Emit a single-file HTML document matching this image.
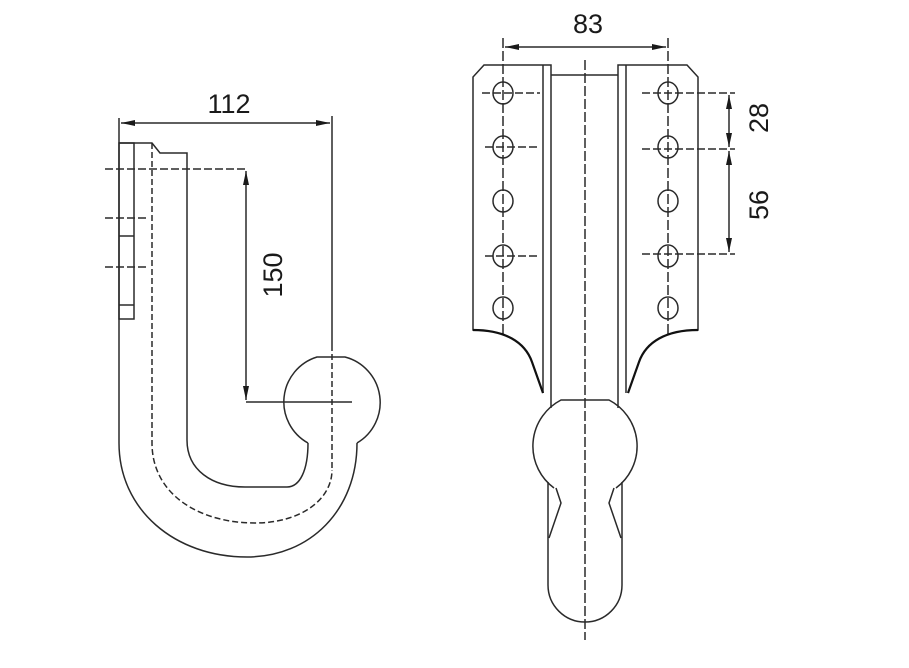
<!DOCTYPE html>
<html><head><meta charset="utf-8"><style>
html,body{margin:0;padding:0;background:#fff;}
svg{display:block;}
text{font-family:"Liberation Sans",sans-serif;fill:#1a1a1a;}
</style></head><body>
<svg width="909" height="668" viewBox="0 0 909 668" xmlns="http://www.w3.org/2000/svg">
<defs>
<marker id="a" viewBox="0 0 14 6" refX="14" refY="3" markerWidth="14" markerHeight="6" orient="auto-start-reverse" markerUnits="userSpaceOnUse"><path d="M0,0 L14,3 L0,6 z" fill="#1a1a1a"/></marker>
</defs>
<g fill="none" stroke="#2a2a2a" stroke-width="1.5">
<!-- LEFT VIEW -->
<line x1="119" y1="118" x2="119" y2="143"/>
<line x1="332" y1="116" x2="332" y2="345"/>
<line x1="332" y1="345" x2="332" y2="470" stroke-dasharray="6,3"/>
<line x1="121" y1="123" x2="330" y2="123" marker-start="url(#a)" marker-end="url(#a)"/>
<path d="M119,143 L152,143 L160,153 L187,153 L187,440 C187,470 212,487 245,487 L287,487 C300,487 308,470 308,443"/>
<path d="M119,143 L119,443 C119,510 175,557 247,557 C310,557 357,510 357,443"/>
<path d="M308,443 A47,47 0 0 1 317,357 L345,357 A47,47 0 0 1 357,443"/>
<rect x="119" y="143" width="15" height="176"/>
<line x1="119" y1="236" x2="134" y2="236"/>
<line x1="119" y1="305" x2="134" y2="305"/>
<path d="M152,143 L152,443 C152,495 200,523 255,523 C300,523 332,500 332,470" stroke-dasharray="6,3"/>
<line x1="105" y1="169" x2="246" y2="169" stroke-dasharray="8,3"/>
<line x1="105" y1="218" x2="146" y2="218" stroke-dasharray="8,3"/>
<line x1="105" y1="267" x2="146" y2="267" stroke-dasharray="8,3"/>
<line x1="246" y1="171" x2="246" y2="400" marker-start="url(#a)" marker-end="url(#a)"/>
<line x1="246" y1="402" x2="352" y2="402"/>
<!-- RIGHT VIEW -->
<line x1="503" y1="38" x2="503" y2="335" stroke-dasharray="10,3"/>
<line x1="668" y1="38" x2="668" y2="335" stroke-dasharray="10,3"/>
<line x1="505" y1="47" x2="666" y2="47" marker-start="url(#a)" marker-end="url(#a)"/>
<path d="M543,393 L532,362 C525,342 505,330 473,330 L473,77 L484,65 L551,65 L551,408"/>
<line x1="543" y1="65" x2="543" y2="393"/>
<path d="M628,393 L639,362 C646,342 666,330 698,330 L698,77 L687,65 L618,65 L618,408"/>
<line x1="626" y1="65" x2="626" y2="393"/>
<line x1="551" y1="75" x2="618" y2="75"/>
<line x1="585" y1="60" x2="585" y2="640" stroke-dasharray="10,3"/>
<g>
<ellipse cx="503" cy="93" rx="10" ry="11"/><ellipse cx="503" cy="147" rx="10" ry="11"/><ellipse cx="503" cy="201" rx="10" ry="11"/><ellipse cx="503" cy="256" rx="10" ry="11"/><ellipse cx="503" cy="308" rx="10" ry="11"/>
<ellipse cx="668" cy="93" rx="10" ry="11"/><ellipse cx="668" cy="147" rx="10" ry="11"/><ellipse cx="668" cy="201" rx="10" ry="11"/><ellipse cx="668" cy="256" rx="10" ry="11"/><ellipse cx="668" cy="308" rx="10" ry="11"/>
</g>
<g stroke-dasharray="8,3">
<line x1="482" y1="93" x2="540" y2="93"/><line x1="485" y1="147" x2="540" y2="147"/><line x1="485" y1="256" x2="540" y2="256"/>
<line x1="642" y1="93" x2="735" y2="93"/><line x1="642" y1="149" x2="735" y2="149"/><line x1="642" y1="254" x2="735" y2="254"/>
</g>
<line x1="729" y1="95" x2="729" y2="147" marker-start="url(#a)" marker-end="url(#a)"/>
<line x1="729" y1="151" x2="729" y2="252" marker-start="url(#a)" marker-end="url(#a)"/>
<path d="M554,488 A52,52 0 0 1 561,400 L609,400 A52,52 0 0 1 616,488"/>
<path d="M548,482 L548,585 A37,37 0 0 0 622,585 L622,482"/>
<path d="M556,488 L561,503 L549,538"/>
<path d="M614,488 L609,503 L621,538"/>
</g>
<g stroke="#111" stroke-width="2.2" fill="none">
<path d="M473,330 C505,330 525,342 532,362 L543,393"/>
<path d="M698,330 C666,330 646,342 639,362 L628,393"/>
</g>
<text x="229" y="113" font-size="27" text-anchor="middle">112</text>
<text x="588" y="33" font-size="27" text-anchor="middle">83</text>
<text transform="translate(282,275) rotate(-90)" font-size="27" text-anchor="middle">150</text>
<text transform="translate(768,118) rotate(-90)" font-size="27" text-anchor="middle">28</text>
<text transform="translate(768,205) rotate(-90)" font-size="27" text-anchor="middle">56</text>
</svg>
</body></html>
